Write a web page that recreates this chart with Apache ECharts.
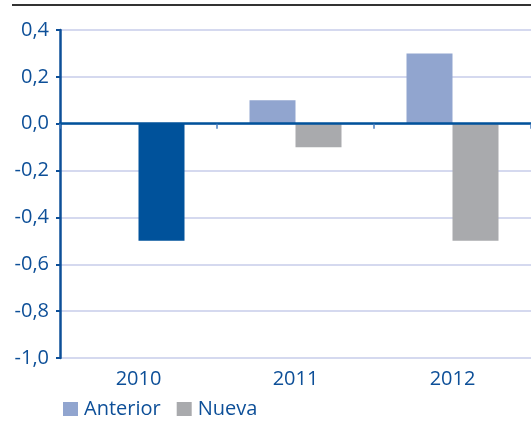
<!DOCTYPE html>
<html>
<head>
<meta charset="utf-8">
<script src="https://cdn.jsdelivr.net/npm/echarts@6/dist/echarts.min.js"></script>
<style>
  html, body { margin: 0; padding: 0; background: #fff; }
  #chart { width: 531px; height: 426px; }
</style>
</head>
<body>
<div id="chart"></div>
<script>
const categories = ['2010', '2011', '2012']
const anteriorData = ['-', 0.1, 0.3]
const nuevaData = [-0.5, -0.1, -0.5]
const yTicks = [-1.0, -0.8, -0.6, -0.4, -0.2, 0.0, 0.2, 0.4]

const navy = '#0d4f98'
const chart = echarts.init(document.getElementById('chart'))

// 2010 solo tiene la cifra nueva, pintada en azul oscuro
const nuevaItems = nuevaData.map((v, i) => i === 0
  ? { value: v, itemStyle: { color: '#00529b' } }
  : v)

const option = {
  animation: false,
  textStyle: { fontFamily: 'Open Sans' },
  graphic: [{
    type: 'line',
    shape: { x1: 12, y1: 5, x2: 531, y2: 5 },
    style: { stroke: '#333', lineWidth: 2 }
  }],
  legend: {
    left: 58,
    bottom: 2,
    itemWidth: 15,
    itemHeight: 14,
    itemGap: 16,
    icon: 'rect',
    textStyle: { color: navy, fontSize: 20, padding: [0, 0, 0, 1] },
    data: ['Anterior', 'Nueva']
  },
  grid: { left: 60, right: -5, top: 30, bottom: 68 },
  xAxis: [
    {
      // eje en el cero, solo linea y marcas
      type: 'category',
      position: 'bottom',
      data: categories,
      axisLine: { onZero: true, lineStyle: { color: '#00529b', width: 2.5 } },
      axisTick: { show: true, length: 5, lineStyle: { color: '#4a7fbf', width: 1.5 } },
      axisLabel: { show: false },
      z: 5
    },
    {
      // etiquetas de los años abajo
      type: 'category',
      position: 'bottom',
      data: categories,
      axisLine: { show: false, onZero: false },
      axisTick: { show: false },
      axisLabel: { color: navy, fontSize: 20, margin: 11 }
    }
  ],
  yAxis: {
    type: 'value',
    min: yTicks[0],
    max: yTicks[yTicks.length - 1],
    interval: 0.2,
    axisLine: { show: true, lineStyle: { color: navy, width: 2.5 } },
    axisTick: { show: true, length: 4, lineStyle: { color: navy, width: 2 } },
    axisLabel: {
      color: navy,
      fontSize: 20,
      margin: 11,
      formatter: v => v.toFixed(1).replace('.', ',')
    },
    splitLine: { lineStyle: { color: '#c7cdea', width: 1.5 } }
  },
  series: [
    {
      name: 'Anterior',
      type: 'bar',
      data: anteriorData,
      barWidth: 46,
      barGap: '0%',
      itemStyle: { color: '#91a5cf' }
    },
    {
      name: 'Nueva',
      type: 'bar',
      data: nuevaItems,
      barWidth: 46,
      itemStyle: { color: '#a9aaad' }
    }
  ]
}
chart.setOption(option)
</script>
</body>
</html>
